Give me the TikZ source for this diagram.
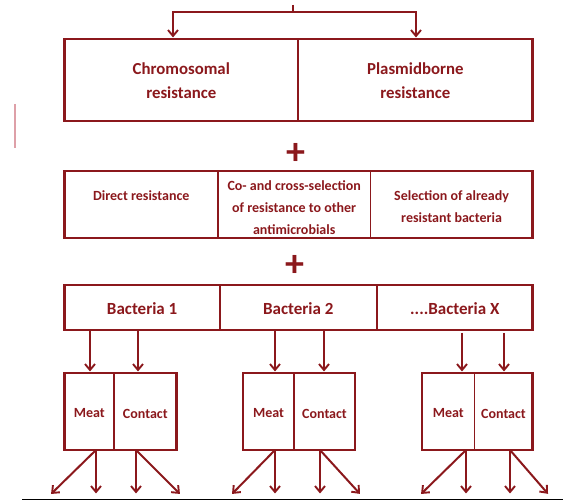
\documentclass[tikz,border=0pt]{standalone}
\usepackage{fontspec}
\setmainfont{Carlito}
\usetikzlibrary{arrows.meta}
\definecolor{dr}{RGB}{139,24,28}
\definecolor{faint}{RGB}{222,160,168}
\definecolor{baseline}{RGB}{176,80,84}
\begin{document}
\begin{tikzpicture}[x=1pt,y=-1pt,
  cell/.style={draw=dr, line width=1.6pt, inner sep=0pt, outer sep=0pt, anchor=north west},
  txt/.style={text=dr, align=center, inner sep=0pt},
  fA/.style={txt, font=\bfseries\fontsize{16.8}{24}\selectfont},
  fB/.style={txt, font=\bfseries\fontsize{14}{22}\selectfont},
  fC/.style={txt, font=\bfseries\fontsize{17}{20}\selectfont},
  fD/.style={txt, font=\bfseries\fontsize{14}{17}\selectfont},
  outer/.style={draw=dr, line width=2.6pt},
  line/.style={draw=dr, line width=2pt},
  arr/.style={draw=dr, line width=2pt, shorten >=1.5pt,
    -{Straight Barb[length=6pt,width=10pt,line width=1.9pt]}},
  plus/.style={text=dr, font=\fontsize{38}{38}\selectfont\bfseries, inner sep=0pt}
]
\useasboundingbox (0,0) rectangle (563,502);

% faint mark on the left
\draw[faint, line width=1.6pt] (15,104) -- (15,148);

% top split
\coordinate (src) at (293,5);
\coordinate (split) at (293,12);

% row 1
\node[cell, minimum width=233.4pt, minimum height=82pt] (chromo) at (64.6,39) {};
\node[cell, minimum width=234.7pt, minimum height=82pt] (plasmid) at (298,39) {};
\draw[outer] (chromo.north west) rectangle (plasmid.south east);
\node[fA] (chromoT) at ([yshift=-1pt]chromo.center) {Chromosomal\\resistance};
\node[fA] (plasmidT) at ([yshift=-1pt]plasmid.center) {Plasmidborne\\resistance};

\coordinate (tl) at (173,0);
\coordinate (tr) at (416,0);
\draw[line, line width=1.6pt] (src) -- (split);
\draw[arr] (split) -| (tl |- chromo.north);
\draw[arr] (split) -| (tr |- plasmid.north);

\node[plus] (plus1) at (295.5,154) {+};

% row 2
\node[cell, minimum width=153.4pt, minimum height=67pt] (direct) at (64.6,171) {};
\node[cell, minimum width=152.4pt, minimum height=67pt] (cosel) at (218,171) {};
\node[cell, minimum width=162.3pt, minimum height=67pt] (selres) at (370.4,171) {};
\draw[outer] (direct.north west) rectangle (selres.south east);
\node[fB] (directT) at ([yshift=9pt]direct.center) {Direct resistance};
\node[fB] (coselT) at ([yshift=-3pt]cosel.center)
  {Co- and cross-selection\\of resistance to other\\antimicrobials};
\node[fB] (selresT) at ([yshift=-2.5pt]selres.center)
  {Selection of already\\resistant bacteria};

\node[plus] (plus2) at (295,266) {+};

% row 3
\node[cell, minimum width=155.1pt, minimum height=45pt] (b1) at (64.6,285) {};
\node[cell, minimum width=157.2pt, minimum height=45pt] (b2) at (219.7,285) {};
\node[cell, minimum width=155.8pt, minimum height=45pt] (bx) at (376.9,285) {};
\draw[outer] (b1.north west) rectangle (bx.south east);
\node[fC] (b1T) at ([yshift=-1pt]b1.center) {Bacteria 1};
\node[fC] (b2T) at ([yshift=-1pt]b2.center) {Bacteria 2};
\node[fC] (bxT) at ([yshift=-1pt]bx.center) {....Bacteria X};

% row 4
\node[cell, minimum width=49.4pt, minimum height=77pt] (meat1) at (64.6,373) {};
\node[cell, minimum width=62.6pt, minimum height=77pt] (contact1) at (114,373) {};
\draw[outer] (meat1.north west) rectangle (contact1.south east);
\node[cell, minimum width=51pt, minimum height=77pt] (meat2) at (243,373) {};
\node[cell, minimum width=61pt, minimum height=77pt] (contact2) at (294,373) {};
\draw[outer] (meat2.north west) rectangle (contact2.south east);
\node[cell, minimum width=52.5pt, minimum height=77pt] (meat3) at (422,373) {};
\node[cell, minimum width=58pt, minimum height=77pt] (contact3) at (474.5,373) {};
\draw[outer] (meat3.north west) rectangle (contact3.south east);
\foreach \n in {1,2,3}{
  \node[fD] (meat\n T) at ([yshift=-2pt]meat\n.center) {Meat};
  \node[fD] (contact\n T) at ([yshift=-2pt]contact\n.center) {Contact};
}

% arrows bacteria -> meat/contact
\coordinate (x1) at (90,0);  \coordinate (x2) at (138,0);
\coordinate (x3) at (275,0); \coordinate (x4) at (324,0);
\coordinate (x5) at (462,0); \coordinate (x6) at (504,0);
\coordinate (bxs) at ([yshift=-3pt]bx.south);
\draw[arr] (x1 |- b1.south) -- (x1 |- meat1.north);
\draw[arr] (x2 |- b1.south) -- (x2 |- contact1.north);
\draw[arr] (x3 |- b2.south) -- (x3 |- meat2.north);
\draw[arr] (x4 |- b2.south) -- (x4 |- contact2.north);
\draw[arr] (x5 |- bxs) -- (x5 |- meat3.north);
\draw[arr] (x6 |- bxs) -- (x6 |- contact3.north);

% lower arrows: start columns and free ends
\coordinate (s1) at (96,0);  \coordinate (s2) at (136,0);
\coordinate (s3) at (275,0); \coordinate (s4) at (320,0);
\coordinate (s5) at (466,0); \coordinate (s6) at (510,0);
\coordinate (e1a) at (50,495);  \coordinate (e1b) at (96,495);
\coordinate (e1c) at (136,495); \coordinate (e1d) at (181,495);
\coordinate (e2a) at (231,495); \coordinate (e2b) at (275,495);
\coordinate (e2c) at (320,495); \coordinate (e2d) at (361,495);
\coordinate (e3a) at (420,495); \coordinate (e3b) at (466,495);
\coordinate (e3c) at (510,495); \coordinate (e3d) at (549,495);

\draw[arr] (s1 |- meat1.south) -- (e1a);
\draw[arr] (s1 |- meat1.south) -- (e1b);
\draw[arr] (s2 |- contact1.south) -- (e1c);
\draw[arr] (s2 |- contact1.south) -- (e1d);
\draw[arr] (s3 |- meat2.south) -- (e2a);
\draw[arr] (s3 |- meat2.south) -- (e2b);
\draw[arr] (s4 |- contact2.south) -- (e2c);
\draw[arr] (s4 |- contact2.south) -- (e2d);
\draw[arr] (s5 |- meat3.south) -- (e3a);
\draw[arr] (s5 |- meat3.south) -- (e3b);
\draw[arr] (s6 |- contact3.south) -- (e3c);
\draw[arr] (s6 |- contact3.south) -- (e3d);

% bottom rule
\coordinate (ruleL) at (22,500);
\coordinate (ruleR) at (563,500);
\draw[baseline, line width=1pt] (ruleL) -- (ruleR);
\end{tikzpicture}
\end{document}
